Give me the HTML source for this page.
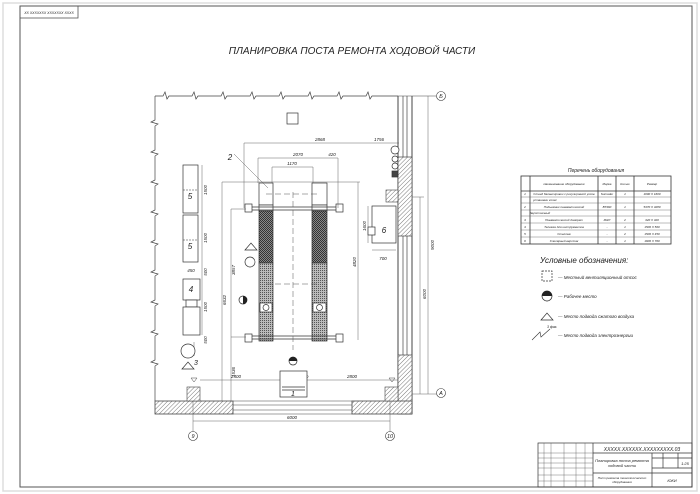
<!DOCTYPE html>
<html><head><meta charset="utf-8"><style>
html,body{margin:0;padding:0;background:#fff}
svg{display:block}
text{font-family:"Liberation Sans","DejaVu Sans",sans-serif;font-style:italic;fill:#222}
</style></head><body>
<svg width="700" height="494" viewBox="0 0 700 494" xmlns="http://www.w3.org/2000/svg">
<defs>
<pattern id="h" width="3" height="3" patternUnits="userSpaceOnUse" patternTransform="rotate(45)"><rect width="3" height="3" fill="#fff"/><line x1="0" y1="0" x2="0" y2="3" stroke="#555" stroke-width="0.8"/></pattern>
<pattern id="x" width="2" height="2" patternUnits="userSpaceOnUse"><rect width="2" height="2" fill="#888"/><rect width="1" height="1" fill="#333"/><rect x="1" y="1" width="1" height="1" fill="#333"/></pattern>
<pattern id="m" width="2" height="2" patternUnits="userSpaceOnUse"><rect width="2" height="2" fill="#bbb"/><rect width="1" height="1" fill="#555"/></pattern>
</defs>
<rect x="3" y="3" width="694" height="488" fill="none" stroke="#ddd" stroke-width="1.5"/>
<rect x="20" y="6" width="672" height="481" fill="none" stroke="#555" stroke-width="1"/>
<rect x="20" y="6" width="58" height="12" fill="none" stroke="#555" stroke-width="0.8"/>
<text x="49" y="14" font-size="3.5" text-anchor="middle">ХХ ХХХХХХХ ХХХХХХХ ХХХХ</text>
<text x="352" y="54" font-size="10" text-anchor="middle">ПЛАНИРОВКА ПОСТА РЕМОНТА ХОДОВОЙ ЧАСТИ</text>

<g stroke="#444" fill="none" stroke-width="0.7">
<polyline points="155,96 163,96 165,92 167,99 169,96 192,96 194,92 196,99 198,96 221,96 223,92 225,99 227,96 250,96 252,92 254,99 256,96 279,96 281,92 283,99 285,96 308,96 310,92 312,99 314,96 337,96 339,92 341,99 343,96 366,96 368,92 370,99 372,96 398,96"/>
<line x1="398" y1="96" x2="436" y2="96" stroke-width="0.5"/>
<polyline points="155,96 155,120 151,122 158,124 155,126 155,150 151,152 158,154 155,156 155,180 151,182 158,184 155,186 155,210 151,212 158,214 155,216 155,240 151,242 158,244 155,246 155,270 151,272 158,274 155,276 155,300 151,302 158,304 155,306 155,330 151,332 158,334 155,336 155,360 151,362 158,364 155,366 155,401"/>
<line x1="398" y1="96" x2="398" y2="414" stroke-width="1"/>
<line x1="403" y1="96" x2="403" y2="355"/><line x1="407" y1="96" x2="407" y2="355"/>
<line x1="412" y1="96" x2="412" y2="414" stroke-width="1"/>
</g>
<rect x="398" y="157" width="14" height="79" fill="url(#h)" stroke="#444" stroke-width="0.7"/>
<rect x="398" y="355" width="14" height="59" fill="url(#h)" stroke="#444" stroke-width="0.7"/>
<rect x="386" y="190" width="12" height="12" fill="url(#h)" stroke="#444" stroke-width="0.6"/>
<rect x="155" y="401" width="78" height="13" fill="url(#h)" stroke="#444" stroke-width="0.8"/>
<rect x="352" y="401" width="60" height="13" fill="url(#h)" stroke="#444" stroke-width="0.8"/>
<g stroke="#444" stroke-width="0.6"><line x1="233" y1="401" x2="352" y2="401"/><line x1="233" y1="405" x2="352" y2="405"/><line x1="233" y1="410" x2="352" y2="410"/><line x1="233" y1="414" x2="352" y2="414"/></g>
<rect x="187" y="387" width="13" height="14" fill="url(#h)" stroke="#444" stroke-width="0.6"/>
<rect x="385" y="387" width="13" height="14" fill="url(#h)" stroke="#444" stroke-width="0.6"/>
<g stroke="#444" stroke-width="0.5" fill="none"><polygon points="191,378 197,378 194,382"/><polygon points="389,378 395,378 392,382"/></g>

<g stroke="#333" stroke-width="0.7">
<rect x="259" y="183" width="14" height="22" fill="#fff"/><rect x="312" y="183" width="15" height="22" fill="#fff"/>
<rect x="259" y="205" width="14" height="6" fill="#fff"/><rect x="312" y="205" width="15" height="6" fill="#fff"/>
<rect x="259" y="211" width="14" height="52" fill="url(#x)"/><rect x="312" y="211" width="15" height="52" fill="url(#x)"/>
<rect x="259" y="263" width="14" height="78" fill="url(#m)"/><rect x="312" y="263" width="15" height="78" fill="url(#m)"/>
<rect x="260" y="303" width="12" height="9" fill="#fff"/><rect x="313" y="303" width="13" height="9" fill="#fff"/>
<circle cx="266" cy="307.5" r="3" fill="#fff"/><circle cx="319.5" cy="307.5" r="3" fill="#fff"/>
<line x1="252" y1="207" x2="336" y2="207"/><line x1="252" y1="210" x2="336" y2="210"/>
<line x1="252" y1="336" x2="336" y2="336"/><line x1="252" y1="339" x2="336" y2="339"/>
<rect x="245" y="204" width="7" height="8" fill="#fff"/><rect x="336" y="204" width="7" height="8" fill="#fff"/>
<rect x="245" y="334" width="7" height="8" fill="#fff"/><rect x="336" y="334" width="7" height="8" fill="#fff"/>
</g>
<g stroke="#555" stroke-width="0.5" fill="none" stroke-dasharray="6,3">
<line x1="293" y1="192" x2="293" y2="350"/><line x1="266" y1="194" x2="320" y2="194"/><line x1="266" y1="284" x2="320" y2="284"/>
</g>
<g stroke="#555" stroke-width="0.45" fill="none">
<line x1="244" y1="143" x2="399" y2="143"/><line x1="244" y1="143" x2="244" y2="208"/>
<line x1="258" y1="158" x2="338" y2="158"/><line x1="258" y1="158" x2="258" y2="183"/><line x1="338" y1="158" x2="338" y2="208"/>
<line x1="272" y1="167" x2="313" y2="167"/><line x1="272" y1="167" x2="272" y2="183"/><line x1="313" y1="167" x2="313" y2="183"/>
<line x1="222" y1="182" x2="360" y2="182"/><line x1="222" y1="182" x2="222" y2="401"/>
<line x1="231" y1="209" x2="231" y2="401"/><line x1="231" y1="209" x2="246" y2="209"/><line x1="231" y1="337" x2="246" y2="337"/>
<line x1="358" y1="182" x2="358" y2="340"/>
<line x1="200" y1="380" x2="398" y2="380"/>
<line x1="193" y1="401" x2="193" y2="433"/><line x1="390" y1="401" x2="390" y2="433"/>
<line x1="193" y1="421" x2="390" y2="421"/>
<line x1="420" y1="197" x2="420" y2="394"/><line x1="412" y1="197" x2="424" y2="197"/>
<line x1="428" y1="96" x2="428" y2="394"/><line x1="412" y1="394" x2="436" y2="394"/>
<line x1="202" y1="165" x2="202" y2="335"/>
<line x1="194" y1="342" x2="194" y2="356"/>
<line x1="368" y1="206" x2="368" y2="243"/><line x1="372" y1="250" x2="396" y2="250"/>
<line x1="234" y1="154" x2="268" y2="188"/>
</g>
<g font-size="4.5" text-anchor="middle">
<text x="320" y="141">2868</text><text x="379" y="141">1756</text>
<text x="298" y="156">2070</text><text x="332" y="156">420</text>
<text x="292" y="165">1170</text>
<text x="305" y="378" font-size="4">800</text><text x="236" y="378">2400</text><text x="352" y="378">2800</text>
<text x="292" y="419">6000</text>
<text x="230" y="160" font-size="8">2</text>
<text x="196" y="365" font-size="7">3</text>
</g>
<g font-size="4.5" text-anchor="middle">
<text transform="translate(226,300) rotate(-90)">6632</text>
<text transform="translate(235,270) rotate(-90)">3857</text>
<text transform="translate(235,372) rotate(-90)">1536</text>
<text transform="translate(356,262) rotate(-90)">4820</text>
<text transform="translate(426,294) rotate(-90)">6000</text>
<text transform="translate(434,245) rotate(-90)">9000</text>
<text transform="translate(207,190) rotate(-90)">1500</text>
<text transform="translate(207,238) rotate(-90)">1500</text>
<text transform="translate(207,272) rotate(-90)">500</text>
<text transform="translate(207,307) rotate(-90)">1500</text>
<text transform="translate(207,340) rotate(-90)">500</text>
<text transform="translate(366,226) rotate(-90)">1600</text>
<text x="383" y="260">700</text><text x="191" y="272">450</text>
</g>
<g stroke="#333" stroke-width="0.7" fill="#fff">
<rect x="183" y="165" width="15" height="48"/><rect x="183" y="215" width="15" height="47"/>
<rect x="183" y="279" width="17" height="21"/><rect x="186" y="300" width="11" height="7"/><rect x="183" y="307" width="17" height="28"/>
<circle cx="188" cy="351" r="7"/>
<rect x="372" y="206" width="24" height="37"/><rect x="368" y="227" width="7" height="8"/>
<rect x="280" y="371" width="27" height="26"/><line x1="282" y1="387" x2="305" y2="387"/><line x1="282" y1="390" x2="305" y2="390"/>
<rect x="287" y="113" width="11" height="11"/>
<polygon points="182,369 188,362 194,369"/>
<polygon points="245,250 251,243 257,250"/>
<circle cx="250" cy="262" r="5"/>
<circle cx="395" cy="150" r="4"/><circle cx="395" cy="159" r="3"/><circle cx="395" cy="166" r="3"/>
<rect x="392" y="171" width="6" height="6" fill="#444"/>
</g>
<g stroke="#333" stroke-width="0.5" fill="none"><line x1="183" y1="190" x2="198" y2="190" stroke-dasharray="2,1"/><line x1="183" y1="240" x2="198" y2="240" stroke-dasharray="2,1"/></g>
<path d="M243 296a4 4 0 0 1 0 8z" fill="#222"/><circle cx="243" cy="300" r="4" fill="none" stroke="#222" stroke-width="0.7"/>
<path d="M289 361a4 4 0 0 1 8 0z" fill="#222"/><circle cx="293" cy="361" r="4" fill="none" stroke="#222" stroke-width="0.7"/>
<g font-size="8" text-anchor="middle"><text x="190" y="199">5</text><text x="190" y="249">5</text><text x="191" y="292">4</text><text x="384" y="233">6</text><text x="293" y="396" font-size="7">1</text></g>
<g stroke="#333" stroke-width="0.6" fill="#fff"><circle cx="441" cy="96" r="4.5"/><circle cx="441" cy="393" r="4.5"/><circle cx="193" cy="436" r="4.5"/><circle cx="390" cy="436" r="4.5"/></g>
<g font-size="5.5" text-anchor="middle"><text x="441" y="98">Б</text><text x="441" y="395">А</text><text x="193" y="438">9</text><text x="390" y="438">10</text></g>

<text x="596" y="172" font-size="5" text-anchor="middle">Перечень оборудования</text>
<g stroke="#333" fill="none" stroke-width="0.8">
<rect x="521" y="176" width="150" height="68"/>
<line x1="530" y1="176" x2="530" y2="244"/><line x1="598" y1="176" x2="598" y2="244"/><line x1="616" y1="176" x2="616" y2="244"/><line x1="634" y1="176" x2="634" y2="244"/>
<line x1="521" y1="191" x2="671" y2="191"/>
</g>
<g stroke="#555" stroke-width="0.4">
<line x1="521" y1="197" x2="671" y2="197"/><line x1="521" y1="203" x2="671" y2="203"/><line x1="521" y1="210" x2="671" y2="210"/><line x1="521" y1="216" x2="671" y2="216"/><line x1="521" y1="223" x2="671" y2="223"/><line x1="521" y1="230" x2="671" y2="230"/><line x1="521" y1="237" x2="671" y2="237"/>
</g>
<g font-size="3" text-anchor="middle">
<text x="564" y="185">Наименование оборудования</text><text x="607" y="185">Марка</text><text x="625" y="185">Кол-во</text><text x="652" y="185">Размер</text>
<text x="525" y="195">1</text><text x="564" y="195">Стенд балансировки с регулировкой углов</text><text x="607" y="195">Sunrader</text><text x="625" y="195">1</text><text x="652" y="195">1600 Х 1600</text>
<text x="545" y="201">установки колес</text>
<text x="525" y="208">2</text><text x="564" y="208">Подъемник пневматический</text><text x="607" y="208">ВТ360</text><text x="625" y="208">1</text><text x="652" y="208">5370 Х 3280</text>
<text x="540" y="214">двухстоечный</text>
<text x="525" y="221">3</text><text x="564" y="221">Пневматический домкрат</text><text x="607" y="221">М&amp;П</text><text x="625" y="221">2</text><text x="652" y="221">320 Х 320</text>
<text x="525" y="228">4</text><text x="564" y="228">Тележка для инструментов</text><text x="607" y="228">-</text><text x="625" y="228">1</text><text x="652" y="228">1500 Х 500</text>
<text x="525" y="235">5</text><text x="564" y="235">Стеллаж</text><text x="607" y="235">-</text><text x="625" y="235">2</text><text x="652" y="235">1500 Х 450</text>
<text x="525" y="242">6</text><text x="564" y="242">Слесарный верстак</text><text x="607" y="242">-</text><text x="625" y="242">1</text><text x="652" y="242">1600 Х 700</text>
</g>
<text x="540" y="263" font-size="8">Условные обозначения:</text>
<rect x="542" y="271" width="10" height="10" fill="none" stroke="#333" stroke-width="0.7" stroke-dasharray="2,1"/>
<path d="M542 296a5 5 0 0 1 10 0z" fill="#222"/><circle cx="547" cy="296" r="5" fill="none" stroke="#222" stroke-width="0.7"/>
<polygon points="541,320 547,313 553,320" fill="none" stroke="#333" stroke-width="0.7"/>
<polyline points="532,340 540,332 541,337 550,329" fill="none" stroke="#333" stroke-width="0.6"/>
<g font-size="4.5"><text x="558" y="279">—  Местный вентиляционный отсос</text><text x="558" y="298">—  Рабочее место</text><text x="558" y="318">—  Место подвода сжатого воздуха</text><text x="558" y="337">—  Место подвода электроэнергии</text><text x="547" y="328" font-size="3.5">3 фаз.</text></g>

<g stroke="#333" fill="none" stroke-width="0.7">
<rect x="538" y="443" width="154" height="44"/>
<line x1="593" y1="443" x2="593" y2="487"/>
<line x1="593" y1="453" x2="692" y2="453"/><line x1="593" y1="473" x2="692" y2="473"/>
<line x1="652" y1="453" x2="652" y2="487"/>
<line x1="652" y1="458" x2="692" y2="458"/><line x1="652" y1="468" x2="692" y2="468"/>
<line x1="663" y1="453" x2="663" y2="468"/><line x1="678" y1="453" x2="678" y2="468"/>
</g>
<g stroke="#555" stroke-width="0.4">
<line x1="544" y1="443" x2="544" y2="487"/><line x1="551" y1="443" x2="551" y2="487"/><line x1="564" y1="443" x2="564" y2="487"/><line x1="576" y1="443" x2="576" y2="487"/><line x1="585" y1="443" x2="585" y2="487"/>
<line x1="538" y1="453" x2="593" y2="453"/><line x1="538" y1="458" x2="593" y2="458"/><line x1="538" y1="463" x2="593" y2="463"/><line x1="538" y1="468" x2="593" y2="468"/><line x1="538" y1="475" x2="593" y2="475"/><line x1="538" y1="481" x2="593" y2="481"/>
</g>
<g font-size="4" text-anchor="middle"><text x="642" y="451" font-size="5">ХХХХХ.ХХХХХХ.ХХХХХХХХХ.03</text>
<text x="622" y="462">Планировка поста ремонта</text><text x="622" y="467">ходовой части</text>
<text x="622" y="479" font-size="3">Пост ремонта технологического</text><text x="622" y="483" font-size="3">оборудования</text>
<text x="685" y="465">1:25</text><text x="672" y="482">ЮКИ</text></g>
</svg>
</body></html>
